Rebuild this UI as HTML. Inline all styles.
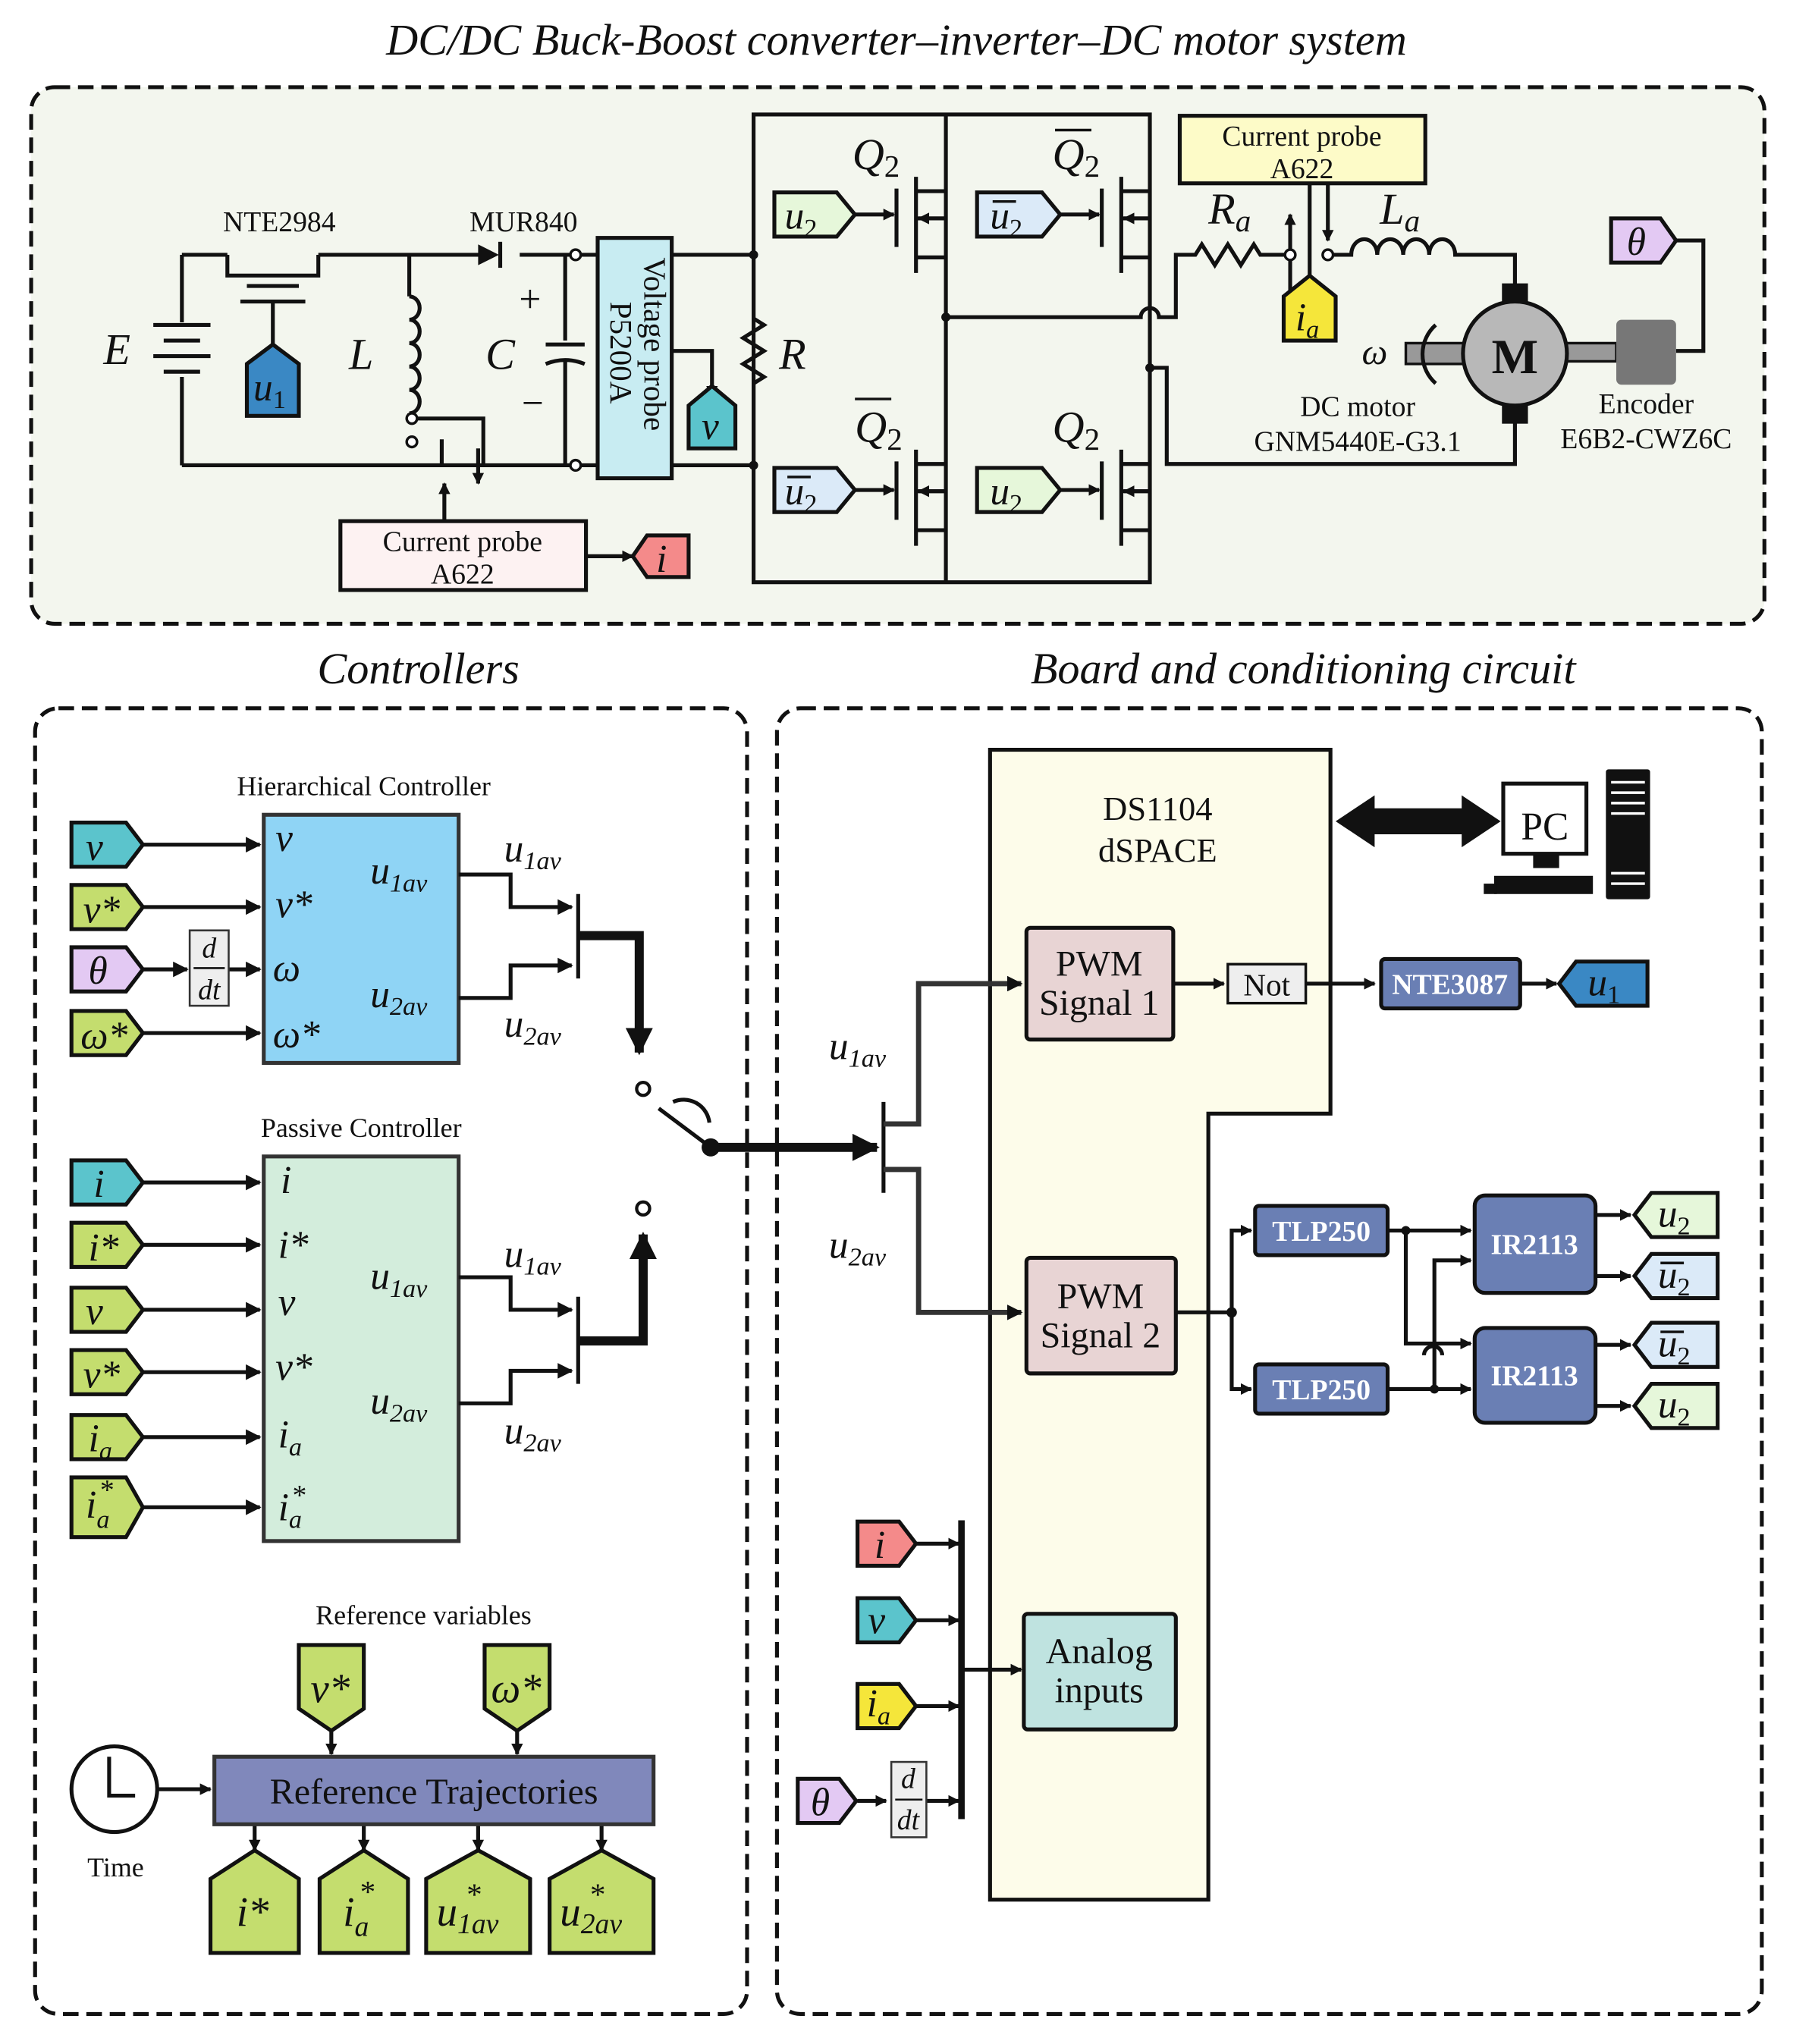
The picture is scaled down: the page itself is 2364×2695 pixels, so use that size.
<!DOCTYPE html>
<html><head><meta charset="utf-8"><style>
html,body{margin:0;padding:0;background:#fff}
svg{display:block}
text{font-family:"Liberation Serif",serif;fill:#111}
.m{font-style:italic}
</style></head><body>
<svg width="2364" height="2695" viewBox="0 0 1380 1573" xmlns="http://www.w3.org/2000/svg">
<defs>
<marker id="a" viewBox="0 0 10 10" refX="9" refY="5" markerWidth="4" markerHeight="4" orient="auto"><path d="M0,0L10,5L0,10z" fill="#111"/></marker>
<marker id="b" viewBox="0 0 10 10" refX="9" refY="5" markerWidth="3" markerHeight="3" orient="auto"><path d="M0,0L10,5L0,10z" fill="#111"/></marker>
</defs>
<text x="690" y="42" font-size="34" class="m" text-anchor="middle" fill="#333">DC/DC Buck-Boost converter–inverter–DC motor system</text>
<text x="322" y="526" font-size="34" class="m" text-anchor="middle" fill="#444">Controllers</text>
<text x="1003" y="526" font-size="34" class="m" text-anchor="middle">Board and conditioning circuit</text>
<g stroke="#111" stroke-width="3" stroke-dasharray="12,6">
<rect x="24" y="67" width="1334" height="413" rx="18" fill="#f3f6ee"/>
<rect x="27" y="545" width="548" height="1005" rx="18" fill="#fff"/>
<rect x="598" y="545" width="758" height="1005" rx="18" fill="#fff"/>
</g>

<!-- ===== TOP CIRCUIT ===== -->
<g stroke="#111" stroke-width="3" fill="none">
<path d="M140,196H175M245,196H375M400,196H460M517,196H580"/>
<path d="M140,358H460M517,358H580"/>
<path d="M140,196V248M140,290V358"/>
<path d="M118,250H162M126,262H154M118,274H162M126,286H154"/>
<path d="M175,196V212H245V196M180,212H240M190,220H230M185,232H235"/>
<path d="M210,232V265"/>
<path d="M315,196V228"/>
<path d="M315,228a8,9 0 0 1 0,18a8,9 0 0 1 0,18a8,9 0 0 1 0,18a8,9 0 0 1 0,18a8,9 0 0 1 0,18" />
<path d="M315,318V322H372V358M340,338V358"/>
<path d="M435,196V262M435,278V358M420,265H450M420,280q15,-6 30,0"/>
<path d="M580,88V448H885V88z M728,88V448"/>
<path d="M580,196V245l8,5l-16,10l16,10l-16,10l16,10l-8,5V358"/>
<path d="M517,270H548V305" marker-end="url(#b)"/>
<path d="M728,244H878a7,7 0 0 1 14,0H905V196H920l5,-8l10,16l10,-16l10,16l10,-16l5,8H990"/>
<path d="M1020,196H1040a10,12 0 0 1 20,0a10,12 0 0 1 20,0a10,12 0 0 1 20,0a10,12 0 0 1 20,0H1166V232"/>
<path d="M885,283H898V357H1166V312"/>
<path d="M993,240V165" marker-end="url(#b)"/>
<path d="M1022,140V185" marker-end="url(#b)"/>
<path d="M1008,140V218"/>
<path d="M342,400V372" marker-end="url(#b)"/><path d="M368,345V372" marker-end="url(#b)"/>
<path d="M451,428H487" marker-end="url(#b)"/>
<path d="M1290,185H1311V270H1290"/>
</g>
<polygon points="368,188 384,196 368,204" fill="#111"/><path d="M385,186V206" stroke="#111" stroke-width="3"/>
<g fill="#fff" stroke="#111" stroke-width="2"><circle cx="443" cy="196" r="4"/><circle cx="443" cy="358" r="4"/><circle cx="317" cy="322" r="4"/><circle cx="317" cy="340" r="4"/><circle cx="993" cy="196" r="4"/><circle cx="1022" cy="196" r="4"/></g>
<g fill="#111"><circle cx="580" cy="196" r="3.5"/><circle cx="580" cy="358" r="3.5"/><circle cx="728" cy="244" r="3.5"/><circle cx="885" cy="283" r="3.5"/></g>
<!-- MOSFETs -->
<g stroke="#111" stroke-width="3" fill="none">
<path d="M690,145V190M705,136V210M705,147H728M705,198H728M705,168H728"/>
<path d="M848,145V190M863,136V210M863,147H885M863,198H885M863,168H885"/>
<path d="M690,355V400M705,346V420M705,357H728M705,408H728M705,378H728"/>
<path d="M848,355V400M863,346V420M863,357H885M863,408H885M863,378H885"/>
<path d="M658,165H688" marker-end="url(#b)"/><path d="M816,165H846" marker-end="url(#b)"/>
<path d="M658,377H688" marker-end="url(#b)"/><path d="M816,377H846" marker-end="url(#b)"/>
<path d="M728,168H707" marker-end="url(#b)"/><path d="M885,168H865" marker-end="url(#b)"/>
<path d="M728,378H707" marker-end="url(#b)"/><path d="M885,378H865" marker-end="url(#b)"/>
</g>
<rect x="460" y="183" width="57" height="185" fill="#c8ecf2" stroke="#111" stroke-width="3"/>
<text transform="translate(496,198) rotate(90)" font-size="24">Voltage probe</text>
<text transform="translate(470,232) rotate(90)" font-size="24">P5200A</text>
<rect x="908" y="89" width="189" height="52" fill="#fdfbc8" stroke="#111" stroke-width="3"/>
<text x="1002" y="112" font-size="22" text-anchor="middle">Current probe</text><text x="1002" y="137" font-size="22" text-anchor="middle">A622</text>
<rect x="262" y="401" width="189" height="53" fill="#fdf2f2" stroke="#111" stroke-width="3"/>
<text x="356" y="424" font-size="22" text-anchor="middle">Current probe</text><text x="356" y="449" font-size="22" text-anchor="middle">A622</text>
<!-- motor -->
<rect x="1156" y="218" width="20" height="16" fill="#111"/><rect x="1156" y="310" width="20" height="16" fill="#111"/>
<rect x="1082" y="264" width="46" height="16" fill="#999" stroke="#111" stroke-width="2"/>
<rect x="1204" y="264" width="40" height="14" fill="#999" stroke="#111" stroke-width="2"/>
<circle cx="1166" cy="272" r="40" fill="#b8b8b8" stroke="#111" stroke-width="3"/>
<text x="1166" y="287" font-size="38" font-weight="bold" text-anchor="middle">M</text>
<rect x="1244" y="246" width="46" height="50" rx="4" fill="#777"/>
<path d="M1105,250a30,30 0 0 0 0,45" stroke="#111" stroke-width="3" fill="none"/>
<!-- top labels -->
<text x="215" y="178" font-size="22" text-anchor="middle">NTE2984</text>
<text x="403" y="178" font-size="22" text-anchor="middle">MUR840</text>
<text x="90" y="280" font-size="34" class="m" text-anchor="middle">E</text>
<text x="278" y="284" font-size="34" class="m" text-anchor="middle">L</text>
<text x="385" y="284" font-size="34" class="m" text-anchor="middle">C</text>
<text x="408" y="240" font-size="30" text-anchor="middle">+</text>
<text x="410" y="320" font-size="30" text-anchor="middle">−</text>
<text x="610" y="284" font-size="34" class="m" text-anchor="middle">R</text>
<text x="656" y="130" font-size="34" class="m">Q<tspan font-size="24" dy="6" font-style="normal">2</tspan></text>
<text x="810" y="130" font-size="34" class="m">Q<tspan font-size="24" dy="6" font-style="normal">2</tspan></text>
<path d="M812,100H840" stroke="#111" stroke-width="2"/>
<text x="658" y="340" font-size="34" class="m">Q<tspan font-size="24" dy="6" font-style="normal">2</tspan></text>
<path d="M658,307H686" stroke="#111" stroke-width="2"/>
<text x="810" y="340" font-size="34" class="m">Q<tspan font-size="24" dy="6" font-style="normal">2</tspan></text>
<text x="930" y="172" font-size="34" class="m">R<tspan font-size="24" dy="6">a</tspan></text>
<text x="1062" y="172" font-size="34" class="m">L<tspan font-size="24" dy="6">a</tspan></text>
<text x="1058" y="280" font-size="28" class="m" text-anchor="middle">ω</text>
<text x="1045" y="320" font-size="22" text-anchor="middle">DC motor</text><text x="1045" y="347" font-size="22" text-anchor="middle">GNM5440E-G3.1</text>
<text x="1267" y="318" font-size="22" text-anchor="middle">Encoder</text><text x="1267" y="345" font-size="22" text-anchor="middle">E6B2-CWZ6C</text>
<!-- top tags -->
<g stroke="#111" stroke-width="3">
<polygon points="190,320 190,280 210,265 230,280 230,320" fill="#3a88c4"/>
<polygon points="530,345 530,312 548,297 566,312 566,345" fill="#5bc4cc"/>
<polygon points="988,262 988,228 1008,212 1028,228 1028,262" fill="#f5e63a"/>
<polygon points="530,412 498,412 487,428 498,444 530,444" fill="#f48a8a"/>
<polygon points="1240,168 1278,168 1290,185 1278,202 1240,202" fill="#e3c9f3"/>
<polygon points="596,148 644,148 658,165 644,182 596,182" fill="#e6f7da"/>
<polygon points="752,148 802,148 816,165 802,182 752,182" fill="#dbeaf8"/>
<polygon points="596,360 644,360 658,377 644,394 596,394" fill="#dbeaf8"/>
<polygon points="752,360 802,360 816,377 802,394 752,394" fill="#e6f7da"/>
</g>
<g font-size="30" class="m">
<text x="195" y="308">u<tspan font-size="20" dy="6" font-style="normal">1</tspan></text>
<text x="540" y="338">v</text>
<text x="997" y="254">i<tspan font-size="20" dy="6">a</tspan></text>
<text x="505" y="440">i</text>
<text x="1252" y="196">θ</text>
<text x="604" y="176">u<tspan font-size="20" dy="6" font-style="normal">2</tspan></text>
<text x="762" y="176">u<tspan font-size="20" dy="6" font-style="normal">2</tspan></text>
<text x="604" y="388">u<tspan font-size="20" dy="6" font-style="normal">2</tspan></text>
<text x="762" y="388">u<tspan font-size="20" dy="6" font-style="normal">2</tspan></text>
</g>
<path d="M764,155H782M606,367H624" stroke="#111" stroke-width="2"/>

<!-- ===== CONTROLLERS ===== -->
<text x="280" y="612" font-size="21" text-anchor="middle" fill="#333">Hierarchical Controller</text>
<rect x="203" y="627" width="150" height="191" fill="#8fd4f5" stroke="#333" stroke-width="3"/>
<text x="278" y="875" font-size="21" text-anchor="middle" fill="#333">Passive Controller</text>
<rect x="203" y="890" width="150" height="296" fill="#d3eddc" stroke="#333" stroke-width="3"/>
<g stroke="#111" stroke-width="3" fill="none" marker-end="url(#a)">
<path d="M110,650H200"/><path d="M110,698H200"/><path d="M110,795H200"/><path d="M176,746H200"/><path d="M110,746H144"/>
<path d="M110,910H200"/><path d="M110,958H200"/><path d="M110,1008H200"/><path d="M110,1056H200"/><path d="M110,1106H200"/><path d="M110,1160H200"/>
<path d="M353,673H393V698H440"/><path d="M353,768H393V743H440"/>
<path d="M353,983H393V1008H440"/><path d="M353,1080H393V1055H440"/>
</g>
<g stroke="#111" stroke-width="3" fill="none">
<path d="M445,688V753M445,998V1065"/>
<path d="M445,720H492V810" stroke-width="7" marker-end="url(#b)"/>
<path d="M445,1032H495V950" stroke-width="7" marker-end="url(#b)"/>
<path d="M547,883L507,853"/>
<path d="M518,848a20,20 0 0 1 28,16" />
<path d="M547,883H675" stroke-width="7" marker-end="url(#b)"/>
</g>
<circle cx="495" cy="838" r="5" fill="#fff" stroke="#111" stroke-width="2.5"/>
<circle cx="495" cy="930" r="5" fill="#fff" stroke="#111" stroke-width="2.5"/>
<circle cx="547" cy="883" r="7" fill="#111"/>
<rect x="146" y="716" width="30" height="58" fill="#eee" stroke="#333" stroke-width="1.5"/>
<path d="M149,745H173" stroke="#111" stroke-width="1.5"/>
<text x="161" y="737" font-size="22" class="m" text-anchor="middle">d</text><text x="161" y="769" font-size="22" class="m" text-anchor="middle">dt</text>
<g stroke="#111" stroke-width="3">
<polygon points="55,633 97,633 110,650 97,667 55,667" fill="#5bc4cc"/>
<polygon points="55,681 97,681 110,698 97,715 55,715" fill="#c4dd6e"/>
<polygon points="55,729 97,729 110,746 97,763 55,763" fill="#e3c9f3"/>
<polygon points="55,778 97,778 110,795 97,812 55,812" fill="#c4dd6e"/>
<polygon points="55,893 97,893 110,910 97,927 55,927" fill="#5bc4cc"/>
<polygon points="55,941 97,941 110,958 97,975 55,975" fill="#c4dd6e"/>
<polygon points="55,991 97,991 110,1008 97,1025 55,1025" fill="#c4dd6e"/>
<polygon points="55,1039 97,1039 110,1056 97,1073 55,1073" fill="#c4dd6e"/>
<polygon points="55,1089 97,1089 110,1106 97,1123 55,1123" fill="#c4dd6e"/>
<polygon points="55,1137 97,1137 110,1160 97,1183 55,1183" fill="#c4dd6e"/>
</g>
<g font-size="30" class="m">
<text x="66" y="662">v</text><text x="64" y="710">v*</text><text x="68" y="757">θ</text><text x="62" y="807">ω*</text>
<text x="72" y="921">i</text><text x="68" y="970">i*</text><text x="66" y="1019">v</text><text x="64" y="1068">v*</text>
<text x="68" y="1117">i<tspan font-size="20" dy="6">a</tspan></text><text x="66" y="1168">i<tspan font-size="20" dy="8">a</tspan></text><text x="76" y="1154" font-size="22">*</text>
<text x="212" y="655">v</text><text x="212" y="706">v*</text><text x="210" y="755">ω</text><text x="210" y="806">ω*</text>
<text x="285" y="680">u<tspan font-size="20" dy="6">1av</tspan></text><text x="285" y="775">u<tspan font-size="20" dy="6">2av</tspan></text>
<text x="388" y="663">u<tspan font-size="20" dy="6">1av</tspan></text><text x="388" y="798">u<tspan font-size="20" dy="6">2av</tspan></text>
<text x="216" y="918">i</text><text x="214" y="968">i*</text><text x="214" y="1012">v</text><text x="212" y="1062">v*</text>
<text x="214" y="1114">i<tspan font-size="20" dy="6">a</tspan></text><text x="214" y="1170">i<tspan font-size="20" dy="6">a</tspan></text><text x="224" y="1158" font-size="22">*</text>
<text x="285" y="992">u<tspan font-size="20" dy="6">1av</tspan></text><text x="285" y="1088">u<tspan font-size="20" dy="6">2av</tspan></text>
<text x="388" y="975">u<tspan font-size="20" dy="6">1av</tspan></text><text x="388" y="1111">u<tspan font-size="20" dy="6">2av</tspan></text>
</g>
<!-- reference -->
<text x="326" y="1250" font-size="21" text-anchor="middle" fill="#333">Reference variables</text>
<g stroke="#111" stroke-width="3">
<polygon points="230,1266 280,1266 280,1315 255,1332 230,1315" fill="#c4dd6e"/>
<polygon points="373,1266 423,1266 423,1315 398,1332 373,1315" fill="#c4dd6e"/>
</g>
<g stroke="#111" stroke-width="3" fill="none" marker-end="url(#b)">
<path d="M255,1332V1350"/><path d="M398,1332V1350"/>
<path d="M122,1377H162"/>
<path d="M196,1404V1424"/><path d="M280,1404V1424"/><path d="M368,1404V1424"/><path d="M463,1404V1424"/>
</g>
<g stroke="#111" stroke-width="3" fill="none"><circle cx="88" cy="1377" r="33"/><path d="M84,1352V1382H104"/></g>
<rect x="165" y="1352" width="338" height="52" fill="#8088bb" stroke="#333" stroke-width="3"/>
<text x="334" y="1388" font-size="28" text-anchor="middle" fill="#222">Reference Trajectories</text>
<text x="89" y="1444" font-size="21" text-anchor="middle" fill="#333">Time</text>
<g stroke="#111" stroke-width="3" fill="#c4dd6e">
<polygon points="162,1503 162,1446 196,1424 230,1446 230,1503"/>
<polygon points="246,1503 246,1446 280,1424 314,1446 314,1503"/>
<polygon points="328,1503 328,1446 368,1424 408,1446 408,1503"/>
<polygon points="423,1503 423,1446 463,1424 503,1446 503,1503"/>
</g>
<g font-size="32" class="m">
<text x="239" y="1310">v*</text><text x="378" y="1310">ω*</text>
<text x="182" y="1482">i*</text>
<text x="264" y="1482">i<tspan font-size="22" dy="8">a</tspan></text><text x="276" y="1464" font-size="24">*</text>
<text x="336" y="1482">u<tspan font-size="22" dy="6">1av</tspan></text><text x="358" y="1466" font-size="24">*</text>
<text x="431" y="1482">u<tspan font-size="22" dy="6">2av</tspan></text><text x="453" y="1466" font-size="24">*</text>
</g>

<!-- ===== BOARD ===== -->
<polygon points="762,577 1024,577 1024,857 930,857 930,1462 762,1462" fill="#fdfcea" stroke="#111" stroke-width="3"/>
<text x="891" y="631" font-size="26" text-anchor="middle">DS1104</text><text x="891" y="663" font-size="26" text-anchor="middle">dSPACE</text>
<polygon points="1028,632 1058,612 1058,622 1125,622 1125,612 1155,632 1125,652 1125,642 1058,642 1058,652" fill="#111"/>
<rect x="1157" y="603" width="64" height="54" fill="#fff" stroke="#111" stroke-width="3"/>
<text x="1189" y="646" font-size="30" text-anchor="middle">PC</text>
<path d="M1180,658V668H1200V658" fill="#111"/><rect x="1150" y="674" width="76" height="14" fill="#111"/><rect x="1142" y="680" width="10" height="8" fill="#111"/>
<rect x="1236" y="592" width="34" height="100" rx="2" fill="#111"/>
<g stroke="#fff" stroke-width="2"><path d="M1240,602H1266M1240,610H1266M1240,618H1266M1240,626H1266M1240,672H1266M1240,680H1266"/></g>

<g stroke="#111" stroke-width="3" fill="none">
<path d="M680,848V918"/>
</g>
<g stroke="#333" stroke-width="4" fill="none" marker-end="url(#b)">
<path d="M680,865H707V757H786"/><path d="M680,900H707V1010H786"/>
</g>
<g stroke="#111" stroke-width="3" fill="none" marker-end="url(#b)">
<path d="M903,757H942"/><path d="M1005,757H1058"/><path d="M1170,757H1198"/>
<path d="M905,1010H948V947H963"/><path d="M948,1010V1069H963"/>
<path d="M1068,947H1132"/><path d="M1068,1069H1132"/>
<path d="M1082,947V1034H1132"/><path d="M1104,1069V970H1132"/>
<path d="M1228,935H1255"/><path d="M1228,982H1255"/><path d="M1228,1035H1255"/><path d="M1228,1082H1255"/>
<path d="M740,1285H786"/>
<path d="M705,1188H738"/><path d="M705,1247H738"/><path d="M705,1313H738"/><path d="M713,1386H738"/><path d="M660,1386H682"/>
</g>
<path d="M740,1170V1400" stroke="#111" stroke-width="5"/>
<g fill="#111"><circle cx="948" cy="1010" r="4"/><circle cx="1082" cy="947" r="3.5"/><circle cx="1104" cy="1069" r="3.5"/></g>
<path d="M1096,1043a7,7 0 0 1 14,0" stroke="#111" stroke-width="3" fill="none"/>
<g font-size="30" class="m"><text x="638" y="815">u<tspan font-size="20" dy="6">1av</tspan></text><text x="638" y="968">u<tspan font-size="20" dy="6">2av</tspan></text></g>
<rect x="790" y="714" width="113" height="86" rx="3" fill="#e8d4d4" stroke="#111" stroke-width="3"/>
<text x="846" y="751" font-size="28" text-anchor="middle">PWM</text><text x="846" y="781" font-size="28" text-anchor="middle">Signal 1</text>
<rect x="790" y="968" width="115" height="89" rx="3" fill="#e8d4d4" stroke="#111" stroke-width="3"/>
<text x="847" y="1007" font-size="28" text-anchor="middle">PWM</text><text x="847" y="1037" font-size="28" text-anchor="middle">Signal 2</text>
<rect x="945" y="742" width="60" height="30" fill="#eee" stroke="#111" stroke-width="2"/>
<text x="975" y="766" font-size="24" text-anchor="middle">Not</text>
<g stroke="#111" stroke-width="3" fill="#6a7fb4">
<rect x="1063" y="738" width="107" height="38" rx="3"/>
<rect x="966" y="928" width="102" height="38" rx="3"/><rect x="966" y="1050" width="102" height="38" rx="3"/>
<rect x="1135" y="920" width="93" height="75" rx="8"/><rect x="1135" y="1022" width="93" height="73" rx="8"/>
</g>
<g font-size="22" font-weight="bold" text-anchor="middle">
<text x="1116" y="765" style="fill:#fff">NTE3087</text>
<text x="1017" y="955" style="fill:#fff">TLP250</text><text x="1017" y="1077" style="fill:#fff">TLP250</text>
<text x="1181" y="965" style="fill:#fff">IR2113</text><text x="1181" y="1066" style="fill:#fff">IR2113</text>
</g>
<rect x="788" y="1242" width="117" height="89" rx="3" fill="#bfe3e0" stroke="#111" stroke-width="3"/>
<text x="846" y="1280" font-size="28" text-anchor="middle">Analog</text><text x="846" y="1310" font-size="28" text-anchor="middle">inputs</text>
<rect x="686" y="1356" width="27" height="58" fill="#eee" stroke="#333" stroke-width="1.5"/>
<path d="M689,1385H710" stroke="#111" stroke-width="1.5"/>
<text x="699" y="1376" font-size="22" class="m" text-anchor="middle">d</text><text x="699" y="1408" font-size="22" class="m" text-anchor="middle">dt</text>
<g stroke="#111" stroke-width="3">
<polygon points="1268,740 1268,774 1213,774 1200,757 1213,740" fill="#3a88c4"/>
<polygon points="1322,918 1322,952 1271,952 1258,935 1271,918" fill="#e6f7da"/>
<polygon points="1322,965 1322,999 1271,999 1258,982 1271,965" fill="#dbeaf8"/>
<polygon points="1322,1018 1322,1052 1271,1052 1258,1035 1271,1018" fill="#dbeaf8"/>
<polygon points="1322,1065 1322,1099 1271,1099 1258,1082 1271,1065" fill="#e6f7da"/>
<polygon points="660,1171 692,1171 705,1188 692,1205 660,1205" fill="#f48a8a"/>
<polygon points="660,1230 692,1230 705,1247 692,1264 660,1264" fill="#5bc4cc"/>
<polygon points="660,1296 692,1296 705,1313 692,1330 660,1330" fill="#f5e63a"/>
<polygon points="614,1369 646,1369 659,1386 646,1403 614,1403" fill="#e3c9f3"/>
</g>
<g font-size="30" class="m">
<text x="1222" y="766">u<tspan font-size="20" dy="6" font-style="normal">1</tspan></text>
<text x="1276" y="944">u<tspan font-size="20" dy="6" font-style="normal">2</tspan></text>
<text x="1276" y="991">u<tspan font-size="20" dy="6" font-style="normal">2</tspan></text>
<text x="1276" y="1044">u<tspan font-size="20" dy="6" font-style="normal">2</tspan></text>
<text x="1276" y="1091">u<tspan font-size="20" dy="6" font-style="normal">2</tspan></text>
<text x="673" y="1199">i</text><text x="668" y="1257">v</text>
<text x="667" y="1321">i<tspan font-size="20" dy="6">a</tspan></text><text x="624" y="1397">θ</text>
</g>
<path d="M1278,972H1296M1278,1025H1296" stroke="#111" stroke-width="2"/>
</svg>
</body></html>
